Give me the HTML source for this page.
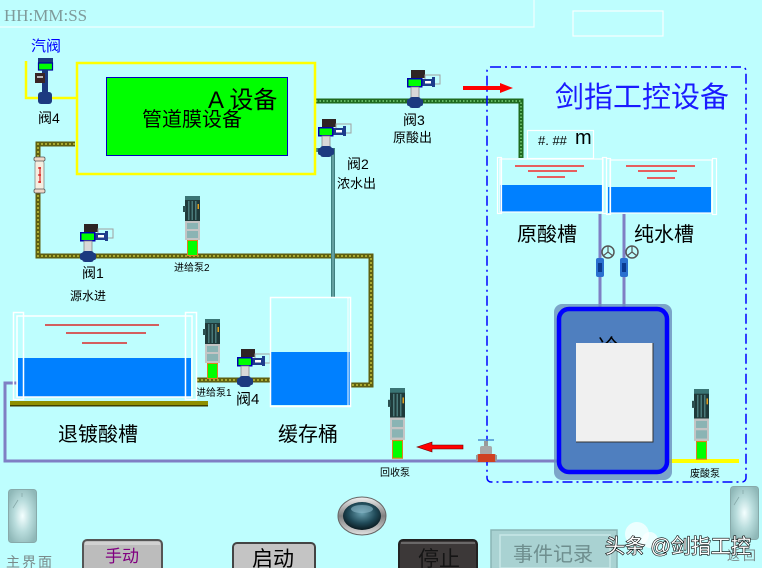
<!DOCTYPE html>
<html><head><meta charset="utf-8"><style>
html,body{margin:0;padding:0;background:#BEFEFE;}
svg{display:block;}
text{font-family:"Liberation Sans","Noto Sans CJK SC",sans-serif;}
</style></head><body>
<svg width="762" height="568" viewBox="0 0 762 568" xmlns="http://www.w3.org/2000/svg">
<defs>
<radialGradient id="sw" cx="50%" cy="50%" r="60%">
<stop offset="0" stop-color="#f4ffff"/><stop offset="0.5" stop-color="#b8dcdc"/><stop offset="1" stop-color="#8fb8b8"/>
</radialGradient>
<radialGradient id="lamp" cx="50%" cy="40%" r="60%">
<stop offset="0" stop-color="#6aa0b0"/><stop offset="0.6" stop-color="#204a58"/><stop offset="1" stop-color="#0a1a20"/>
</radialGradient>
<linearGradient id="ring" x1="0" y1="0" x2="0" y2="1">
<stop offset="0" stop-color="#f0f0f0"/><stop offset="0.5" stop-color="#808080"/><stop offset="1" stop-color="#e0e0e0"/>
</linearGradient>
<g id="v">
<rect x="4" y="-8" width="14" height="8" fill="#2e2424"/>
<rect x="18" y="-3" width="15" height="9" fill="none" stroke="#a0a0a0" stroke-width="1"/>
<rect x="15" y="1" width="11" height="7" fill="#1e3c8c"/>
<rect x="18" y="3" width="6" height="2.5" fill="#fff"/>
<rect x="25" y="-1" width="3" height="10" fill="#1e3c8c"/>
<rect x="0.75" y="0.75" width="14" height="8" fill="#00ff00" stroke="#0000b0" stroke-width="1.5"/>
<rect x="4" y="9" width="8" height="11" fill="#d8d8d8" stroke="#888" stroke-width="0.8"/>
<rect x="2" y="19" width="12" height="11" rx="3" fill="#1c3a80"/>
<rect x="0" y="21" width="16" height="7" rx="2" fill="#1c3a80"/>
</g>
<g id="p">
<rect x="2" y="0" width="15" height="5" fill="#3a7575"/>
<rect x="2" y="4" width="15" height="21" fill="#1f3a3a"/>
<rect x="5" y="5" width="1.5" height="19" fill="#4a7a7a"/>
<rect x="8.5" y="5" width="1.5" height="19" fill="#4a7a7a"/>
<rect x="12" y="5" width="1.5" height="19" fill="#4a7a7a"/>
<rect x="0" y="10" width="3" height="6" fill="#2a5050"/>
<rect x="14.5" y="8" width="1.5" height="5" fill="#e0a020"/>
<rect x="2" y="25" width="15" height="19" fill="#c4c4c4"/>
<rect x="4" y="27" width="11" height="6" fill="#8ab4b4"/>
<rect x="4" y="35" width="11" height="7" fill="#8ab4b4"/>
<rect x="4.5" y="44.5" width="10" height="15" fill="#00ff00" stroke="#e08020" stroke-width="1"/>
</g>
</defs>

<!-- header -->
<path d="M0 27 H534 V0" fill="none" stroke="#f0ffff" stroke-width="1.2"/>
<rect x="573" y="11" width="90" height="25" fill="none" stroke="#f8ffff" stroke-width="1.2"/>
<text x="4" y="21" font-size="17" fill="#7f9a9a" style="font-family:'Liberation Serif',serif">HH:MM:SS</text>

<!-- pipes -->
<path d="M75 144 H38 V256 H371 V385 H351" fill="none" stroke="#5f5f10" stroke-width="5"/>
<path d="M75 144 H38 V256 H371 V385 H351" fill="none" stroke="#a8a830" stroke-width="2" stroke-dasharray="2 2"/>
<path d="M197 380 H270" fill="none" stroke="#5f5f10" stroke-width="5"/>
<path d="M197 380 H270" fill="none" stroke="#a8a830" stroke-width="2" stroke-dasharray="2 2"/>
<path d="M316 101 H521 V158" fill="none" stroke="#1f6a1f" stroke-width="5"/>
<path d="M316 101 H521 V158" fill="none" stroke="#7ad07a" stroke-width="1.5" stroke-dasharray="1.5 2"/>
<path d="M316 150 H333 V297" fill="none" stroke="#3f8080" stroke-width="4"/>
<path d="M333 152 V297" fill="none" stroke="#8ac0c0" stroke-width="1"/>
<path d="M26 61 V98 H76" fill="none" stroke="#ffff00" stroke-width="2.5"/>
<path d="M17 383 H5 V461 H558" fill="none" stroke="#7f7fc4" stroke-width="3"/>
<path d="M600 214 V308 M624 214 V308" fill="none" stroke="#7f7fc4" stroke-width="3"/>
<path d="M668 461 H739" stroke="#ffff00" stroke-width="4"/>

<!-- flowmeter -->
<rect x="35" y="160" width="9" height="31" rx="3" fill="#f5eee0" stroke="#888" stroke-width="0.8"/>
<rect x="34" y="157" width="11" height="4" rx="1.5" fill="#f0d8c8" stroke="#555" stroke-width="0.8"/>
<rect x="34" y="189" width="11" height="4" rx="1.5" fill="#f0d8c8" stroke="#555" stroke-width="0.8"/>
<path d="M40 167 V183 M38 168 H41 M38 175 H41 M38 182 H41" stroke="#d00000" stroke-width="1"/>

<!-- yellow box & green equipment -->
<rect x="77" y="63" width="238" height="111" fill="none" stroke="#ffff00" stroke-width="2.5"/>
<rect x="106.5" y="77.5" width="181" height="78" fill="#00ff00" stroke="#0000c0" stroke-width="1"/>
<text x="208" y="108" font-size="24" fill="#000">A 设备</text>
<text x="142" y="126" font-size="20" fill="#000">管道膜设备</text>

<!-- steam valve -->
<text x="31" y="51" font-size="15" fill="#0000ff">汽阀</text>
<rect x="38" y="58" width="15" height="5" fill="#1c3a80"/>
<rect x="38.5" y="63" width="14" height="7" fill="#00ff00" stroke="#0000a0" stroke-width="1.2"/>
<rect x="42" y="70" width="6" height="22" fill="#1c3a80"/>
<rect x="35" y="73" width="10" height="10" fill="#3a2626"/>
<rect x="37" y="76" width="6" height="2" fill="#bbb"/>
<rect x="38" y="92" width="14" height="12" rx="3" fill="#1c3a80"/>
<text x="38" y="123" font-size="14" fill="#000">阀4</text>

<!-- valves -->
<use href="#v" x="80" y="232"/>
<use href="#v" x="407" y="78"/>
<use href="#v" x="318" y="127"/>
<use href="#v" x="237" y="357"/>
<text x="82" y="278" font-size="14" fill="#000">阀1</text>
<text x="70" y="300" font-size="12" fill="#000">源水进</text>
<text x="347" y="169" font-size="14" fill="#000">阀2</text>
<text x="337" y="188" font-size="13" fill="#000">浓水出</text>
<text x="403" y="125" font-size="14" fill="#000">阀3</text>
<text x="393" y="142" font-size="13" fill="#000">原酸出</text>
<text x="236" y="404" font-size="15" fill="#000">阀4</text>

<!-- pumps -->
<use href="#p" x="183" y="196"/>
<use href="#p" x="203" y="319"/>
<g transform="translate(388 388) scale(1 1.18)"><use href="#p"/></g>
<g transform="translate(692 389) scale(1 1.18)"><use href="#p"/></g>
<text x="174" y="271" font-size="10" fill="#000">进给泵2</text>
<text x="196" y="396" font-size="10" fill="#000">进给泵1</text>
<text x="380" y="476" font-size="10" fill="#000">回收泵</text>
<text x="690" y="477" font-size="10" fill="#000">废酸泵</text>

<!-- 退镀酸槽 -->
<rect x="10" y="401" width="198" height="5" fill="#8f8f00"/>
<rect x="10" y="405" width="198" height="1.5" fill="#404000"/>
<rect x="18" y="358" width="173" height="39" fill="#0080ff"/>
<rect x="13.5" y="312.5" width="10" height="87" fill="none" stroke="#fff" stroke-width="1.5"/>
<rect x="185.5" y="312.5" width="11" height="87" fill="none" stroke="#fff" stroke-width="1.5"/>
<rect x="17" y="316" width="175" height="81" fill="none" stroke="#fff" stroke-width="1.5"/>
<path d="M45 325 H159 M66 333 H146 M82 343 H127" stroke="#e00000" stroke-width="1.2"/>
<text x="58" y="441" font-size="20" fill="#000">退镀酸槽</text>

<!-- 缓存桶 -->
<rect x="271" y="352" width="79" height="53" fill="#0080ff"/>
<rect x="270.5" y="297.5" width="80" height="109" fill="none" stroke="#fff" stroke-width="1.5"/>
<path d="M348 298 V406" stroke="#fff" stroke-width="1"/>
<text x="278" y="441" font-size="20" fill="#000">缓存桶</text>

<!-- arrows -->
<path d="M463 86 H500 V83 L513 88 L500 93 V90 H463 Z" fill="#ff0000"/>
<path d="M463 445 H432 V442 L417 447 L432 452 V449 H463 Z" fill="#ff0000" stroke="#600" stroke-width="0.6"/>

<!-- dash-dot group box -->
<rect x="487" y="67" width="259" height="415" rx="4" fill="none" stroke="#0000ff" stroke-width="1.5" stroke-dasharray="10 4 2 4"/>
<text x="555" y="107" font-size="29" fill="#1a1aff">剑指工控设备</text>

<!-- #.## box -->
<rect x="527.5" y="130.5" width="66" height="28" fill="none" stroke="#fff" stroke-width="1.2"/>
<text x="538" y="145" font-size="13" fill="#000">#. ##</text>
<text x="575" y="144" font-size="20" fill="#000">m</text>

<!-- 原酸槽 / 纯水槽 -->
<rect x="500" y="185" width="103" height="27" fill="#0080ff"/>
<rect x="608" y="187" width="103" height="26" fill="#0080ff"/>
<rect x="497.5" y="157.5" width="4" height="56" fill="none" stroke="#fff" stroke-width="1.2"/>
<rect x="602.5" y="157.5" width="4" height="56" fill="none" stroke="#fff" stroke-width="1.2"/>
<rect x="606.5" y="158.5" width="4" height="56" fill="none" stroke="#fff" stroke-width="1.2"/>
<rect x="712.5" y="158.5" width="4" height="56" fill="none" stroke="#fff" stroke-width="1.2"/>
<rect x="500" y="159" width="103" height="53" fill="none" stroke="#fff" stroke-width="1.2"/>
<rect x="610" y="160" width="102" height="53" fill="none" stroke="#fff" stroke-width="1.2"/>
<path d="M515 166 H584 M528 171 H577 M537 177 H565 M626 166 H695 M638 171 H677 M647 178 H675" stroke="#ff0000" stroke-width="1.2"/>
<text x="517" y="241" font-size="20" fill="#000">原酸槽</text>
<text x="634" y="241" font-size="20" fill="#000">纯水槽</text>

<!-- small valves on vertical pipes -->
<g>
<rect x="596" y="258" width="8" height="19" rx="2" fill="#2a70d0"/>
<rect x="598" y="263" width="4" height="9" fill="#0a3a90"/>
<circle cx="608" cy="252" r="6" fill="none" stroke="#555" stroke-width="1.5"/>
<path d="M608 252 L603 256 M608 252 L613 256 M608 252 V246" stroke="#555" stroke-width="1.2"/>
<rect x="620" y="258" width="8" height="19" rx="2" fill="#2a70d0"/>
<rect x="622" y="263" width="4" height="9" fill="#0a3a90"/>
<circle cx="632" cy="252" r="6" fill="none" stroke="#555" stroke-width="1.5"/>
<path d="M632 252 L627 256 M632 252 L637 256 M632 252 V246" stroke="#555" stroke-width="1.2"/>
</g>

<!-- big tank -->
<rect x="554" y="304" width="118" height="176" rx="8" fill="#6a8fbc" opacity="0.8"/>
<rect x="559" y="309" width="108" height="163" rx="10" fill="#4f7fbf" stroke="#0000ff" stroke-width="4.5"/>
<text x="598" y="355" font-size="22" fill="#000">冷</text>
<rect x="576" y="343" width="77" height="99" fill="#f0f0f0"/>
<path d="M653 343 V442 H576" fill="none" stroke="#333" stroke-width="1"/>

<!-- bottom pipe valve -->
<path d="M478 440 H494" stroke="#4a90d0" stroke-width="1.5"/>
<rect x="484" y="441" width="4" height="6" fill="#999"/>
<rect x="480" y="446" width="12" height="9" rx="2" fill="#a8a8a8"/>
<rect x="477" y="454" width="19" height="8" rx="2" fill="#d04020"/>
<rect x="476" y="455" width="2" height="6" fill="#999"/>
<rect x="495" y="455" width="2" height="6" fill="#999"/>

<!-- bottom controls -->
<rect x="8.5" y="489.5" width="28" height="53" rx="3" fill="url(#sw)" stroke="#8aa" stroke-width="1"/>
<path d="M13 508 L18 500 M22 493 V497" stroke="#8aa" stroke-width="0.8"/>
<text x="6" y="567" font-size="14" fill="#7a8a8a" letter-spacing="2">主界面</text>

<rect x="730.5" y="486.5" width="28" height="53" rx="3" fill="url(#sw)" stroke="#8aa" stroke-width="1"/>
<path d="M734 505 L739 497 M743 490 V494" stroke="#8aa" stroke-width="0.8"/>
<text x="727" y="560" font-size="13" fill="#7a8a8a" letter-spacing="3">返回</text>

<ellipse cx="362" cy="516" rx="24" ry="19" fill="url(#ring)" stroke="#666" stroke-width="1"/>
<ellipse cx="362" cy="516" rx="19" ry="14" fill="url(#lamp)"/>
<ellipse cx="362" cy="509" rx="11" ry="4" fill="#8ab8c8" opacity="0.6"/>

<rect x="83" y="540" width="79" height="32" rx="4" fill="#bcbcbc" stroke="#555" stroke-width="2"/>
<rect x="85" y="542" width="75" height="3" fill="#e0e0e0" opacity="0.6"/>
<text x="105" y="562" font-size="17" fill="#800080">手动</text>

<rect x="233" y="543" width="82" height="30" rx="4" fill="#c4c4c4" stroke="#444" stroke-width="2"/>
<text x="252" y="566" font-size="21" fill="#000">启动</text>

<rect x="399" y="540" width="78" height="32" rx="4" fill="#3c3838" stroke="#222" stroke-width="2"/>
<rect x="401" y="542" width="74" height="2" fill="#888" opacity="0.6"/>
<text x="418" y="566" font-size="21" fill="#151515">停止</text>

<rect x="491" y="530" width="126" height="40" fill="#a9d2d2" stroke="#8ab4b4" stroke-width="1.5"/>
<rect x="500" y="535" width="110" height="33" fill="none" stroke="#c8e8e8" stroke-width="1.5"/>
<text x="513" y="561" font-size="20" fill="#6e8e8e">事件记录</text>

<!-- watermark -->
<circle cx="637" cy="534" r="12" fill="#ffffff" opacity="0.7"/>
<circle cx="650" cy="540" r="8" fill="#ffffff" opacity="0.7"/>
<text x="605" y="553" font-size="20" fill="#ffffff" stroke="#000" stroke-width="1.2" paint-order="stroke">头条 @剑指工控</text>
</svg>
</body></html>
